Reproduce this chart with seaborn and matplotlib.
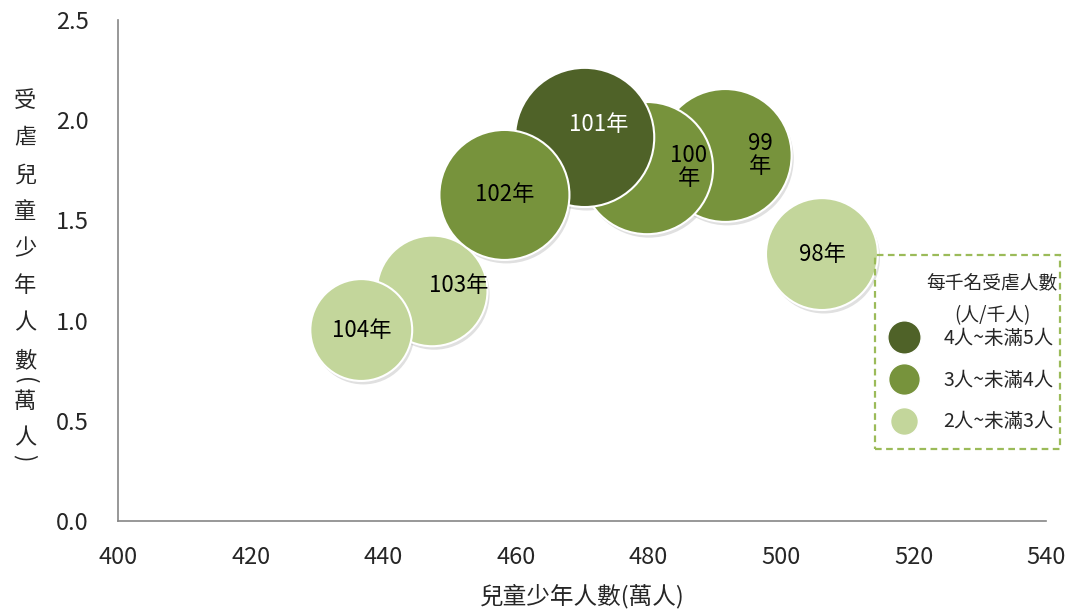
import pandas as pd
import matplotlib
matplotlib.use('Agg')
import matplotlib.pyplot as plt
import matplotlib.patheffects as pe
from matplotlib.lines import Line2D
from matplotlib.patches import Rectangle
import seaborn as sns

sns.set_style('white')
plt.rcParams['font.family'] = ['Noto Sans CJK TC', 'DejaVu Sans']

# data
years = ['98年', '99\n年', '100\n年', '101年', '102年', '103年', '104年']
children = [506.2, 491.6, 479.8, 470.4, 458.3, 447.4, 436.7]   # 兒童少年人數(萬人)
abused = [1.332, 1.824, 1.761, 1.914, 1.627, 1.148, 0.953]     # 受虐兒童少年人數(萬人)
rate = [2.63, 3.71, 3.67, 4.07, 3.55, 2.57, 2.18]              # 每千名受虐人數
classes = ['2人~未滿3人', '3人~未滿4人', '3人~未滿4人', '4人~未滿5人',
           '3人~未滿4人', '2人~未滿3人', '2人~未滿3人']

legend_labels = ['4人~未滿5人', '3人~未滿4人', '2人~未滿3人']
palette = {'4人~未滿5人': '#4f6228', '3人~未滿4人': '#77933c', '2人~未滿3人': '#c3d69b'}
legend_msize = [24, 22.8, 20]

# stacking order as in the original picture, and label tweaks (points)
draw_order = [5, 1, 2, 3, 4, 6, 0]
label_offset = [(0, 0), (25, 0), (30, 1), (10, 9), (0, 0), (19, 4), (0, 0)]
label_color = ['black', 'black', 'black', 'white', 'black', 'black', 'black']

df = pd.DataFrame({'year': years, 'children': children, 'abused': abused,
                   'rate': rate, 'cls': classes})
plt_df = df.iloc[draw_order]

k = 2468  # marker area (pt^2) per unit of rate
fig, ax = plt.subplots(figsize=(10.7, 6.12), dpi=100)
fig.subplots_adjust(left=118/1070, right=1046/1070, top=1-20/612, bottom=1-521/612)

sns.scatterplot(data=plt_df, x='children', y='abused', hue='cls', palette=palette,
                size='rate', sizes=(min(rate)*k, max(rate)*k),
                edgecolor='white', linewidth=1.5, alpha=1, legend=False, ax=ax,
                path_effects=[pe.SimplePatchShadow(offset=(1.5, -2.5), shadow_rgbFace='#999999', alpha=0.3),
                              pe.Normal()])

for i in range(len(years)):
    ax.annotate(years[i], (children[i], abused[i]), xytext=label_offset[i],
                textcoords='offset points', ha='center', va='center',
                fontsize=16, color=label_color[i], linespacing=1.0)

ax.set_xlim(400, 540)
ax.set_ylim(0, 2.5)
ax.set_xticks(range(400, 541, 20))
ax.set_yticks([0, 0.5, 1.0, 1.5, 2.0, 2.5])
ax.set_yticklabels(['0.0', '0.5', '1.0', '1.5', '2.0', '2.5'])
sns.despine(ax=ax)
for side in ['left', 'bottom']:
    ax.spines[side].set_color('#868686')
    ax.spines[side].set_linewidth(1.2)
ax.tick_params(axis='x', direction='in', length=6, width=1.2, color='#868686', pad=18, labelsize=17)
ax.tick_params(axis='y', direction='in', length=6, width=1.2, color='#868686', pad=21, labelsize=17)

ax.set_xlabel('兒童少年人數(萬人)', fontsize=17, labelpad=11)
ax.set_ylabel('')

# vertical y label, one character per row; brackets turned on their side
ylab = list('受虐兒童少年人數(萬人)')
ylab_y = [101, 138, 175, 212, 249, 286, 323, 361, 381, 402, 438, 458]
for ch, yy in zip(ylab, ylab_y):
    rot = -90 if ch in '()' else 0
    fig.text(25/1070, 1 - yy/612, ch, ha='center', va='center', fontsize=16,
             rotation=rot, rotation_mode='anchor')

# legend
handles = [Line2D([], [], marker='o', linestyle='', markersize=ms,
                  markerfacecolor=palette[lab], markeredgecolor='white', markeredgewidth=1)
           for lab, ms in zip(legend_labels, legend_msize)]
ax.legend(handles, legend_labels, loc='upper left', bbox_to_anchor=(880/1070, 1-318/612),
          bbox_transform=fig.transFigure, frameon=False, fontsize=14,
          labelspacing=1.07, handletextpad=1.25, borderpad=0, handlelength=1.5)
fig.patches.append(Rectangle((875/1070, 1-449/612), 185/1070, 194/612, transform=fig.transFigure,
                             fill=False, edgecolor='#9bbb59', linewidth=1.6, linestyle=(0, (3, 2))))
fig.text(992/1070, 1-283/612, '每千名受虐人數', ha='center', va='center', fontsize=13.5)
fig.text(992/1070, 1-316/612, '(人/千人)', ha='center', va='center', fontsize=13.5)

plt.savefig('out.png', dpi=100)
